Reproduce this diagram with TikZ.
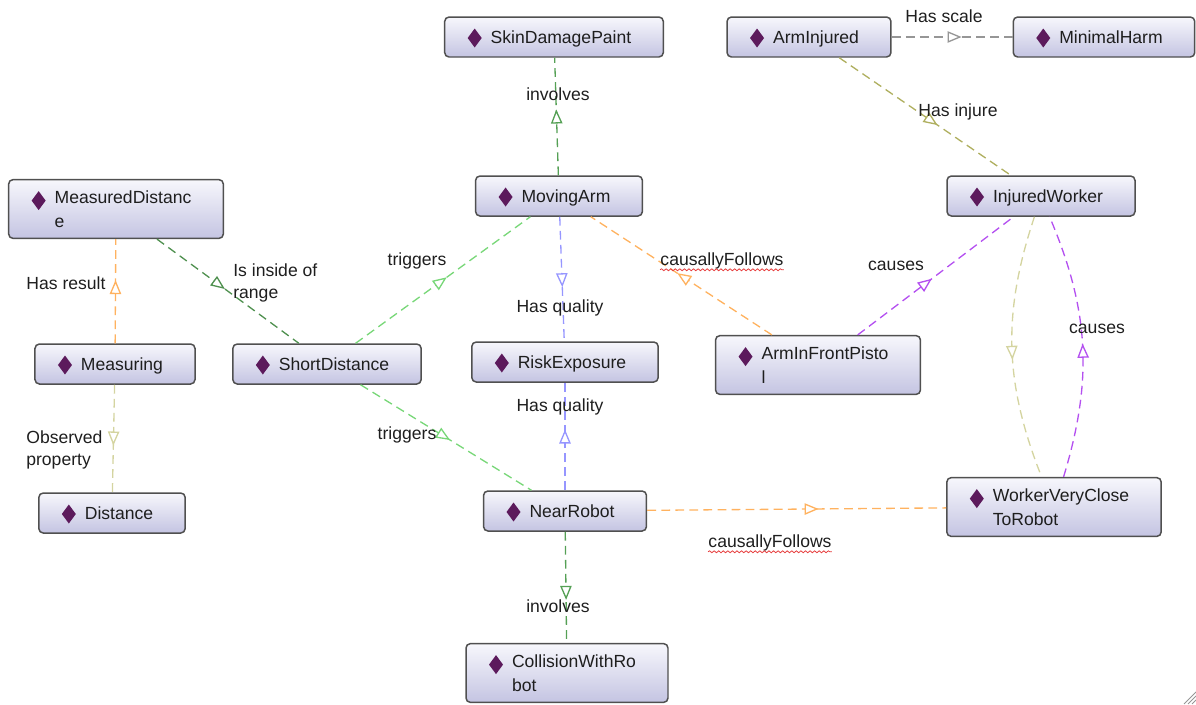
\documentclass[tikz,border=0pt]{standalone}
\usepackage{fontspec}
\setmainfont{Liberation Sans}
\usepackage{tikz}
\usetikzlibrary{arrows.meta}
\usetikzlibrary{decorations.markings}
\usetikzlibrary{decorations.pathmorphing}

\definecolor{indivcol}{RGB}{92,26,92}
\definecolor{boxtop}{RGB}{247,247,252}
\definecolor{boxbot}{RGB}{196,196,226}
\definecolor{boxline}{RGB}{80,80,80}
\definecolor{txtcol}{RGB}{30,30,30}
\definecolor{involvescol}{RGB}{85,160,85}
\definecolor{rangecol}{RGB}{80,145,80}
\definecolor{scalecol}{RGB}{150,150,150}
\definecolor{injurecol}{RGB}{175,175,95}
\definecolor{resultcol}{RGB}{255,178,95}
\definecolor{observedcol}{RGB}{212,212,160}
\definecolor{triggerscol}{RGB}{120,215,120}
\definecolor{qualitycol}{RGB}{150,150,255}
\definecolor{followscol}{RGB}{255,178,95}
\definecolor{causescol}{RGB}{180,80,240}
\definecolor{squigred}{RGB}{230,60,60}

\newcommand{\indname}[1]{\hspace*{0.28cm}\raisebox{-0.8pt}[\height][\depth]{\begin{tabular}{@{}l@{}}#1\end{tabular}}}

\tikzset{
    indiv/.style={draw=boxline, line width=0.85pt, rounded corners=2.5pt,
        top color=boxtop, bottom color=boxbot, text=txtcol,
        inner xsep=0.64cm, inner ysep=0.11cm, minimum height=0.8cm,
        font=\fontsize{10}{13.6}\selectfont,
        path picture={\fill[indivcol, sharp corners] ([shift={(0.6cm,-0.42cm)}]path picture bounding box.north west)
            +(0,0.19cm) -- +(0.14cm,0) -- +(0,-0.19cm) -- +(-0.14cm,0) -- cycle;}},
    rel/.style={color=#1, line width=0.75pt, dash pattern=on 5pt off 3pt},
    midtip/.style={postaction={decorate, decoration={markings, mark=at position #1 with
            {\arrow[xshift=4pt]{Triangle[fill=white, length=8pt, width=6.5pt]}}}}},
    lbl/.style={inner sep=0pt, text=txtcol, font=\fontsize{10}{12.5}\selectfont, align=left},
    squig/.style={draw=squigred, line width=0.45pt, decorate,
        decoration={snake, amplitude=0.55pt, segment length=2.6pt}}
}

\begin{document}
\begin{tikzpicture}[x=0.02cm, y=-0.02cm]
    \useasboundingbox (0,0) rectangle (1196,704);

    \node[indiv] (sdp) at (554,37) {\indname{SkinDamagePaint}};
    \node[indiv] (ai) at (809,37) {\indname{ArmInjured}};
    \node[indiv] (mh) at (1104,37) {\indname{MinimalHarm}};
    \node[indiv] (md) at (116,209) {\indname{MeasuredDistanc\\e}};
    \node[indiv] (ma) at (559,196) {\indname{MovingArm}};
    \node[indiv] (iw) at (1041,196) {\indname{InjuredWorker}};
    \node[indiv] (mg) at (115,364) {\indname{Measuring}};
    \node[indiv] (sd) at (327,364) {\indname{ShortDistance}};
    \node[indiv] (re) at (565,362) {\indname{RiskExposure}};
    \node[indiv] (aif) at (818,365) {\indname{ArmInFrontPisto\\l}};
    \node[indiv] (dist) at (112,513) {\indname{Distance}};
    \node[indiv] (nr) at (565,511) {\indname{NearRobot}};
    \node[indiv] (wvc) at (1054,507) {\indname{WorkerVeryClose\\ToRobot}};
    \node[indiv] (cwr) at (567,673) {\indname{CollisionWithRo\\bot}};

    \draw[rel=involvescol, midtip=0.5] (ma) -- (sdp);
    \draw[rel=scalecol, midtip=0.52] (ai) -- (mh);
    \draw[rel=injurecol, midtip=0.54] (ai) -- (iw);
    \draw[rel=rangecol, midtip=0.44] (md) -- (sd);
    \draw[rel=resultcol, midtip=0.54] (mg) -- (md);
    \draw[rel=observedcol, midtip=0.5] (mg) -- (dist);
    \draw[rel=triggerscol, midtip=0.49] (sd) -- (ma);
    \draw[rel=qualitycol, midtip=0.51] (ma) -- (re);
    \draw[rel=followscol, midtip=0.49] (aif) -- (ma);
    \draw[rel=causescol, midtip=0.44] (aif) -- (iw);
    \draw[rel=observedcol, midtip=0.52] (iw) to[bend right=20] (wvc);
    \draw[rel=causescol, midtip=0.48] (wvc) to[bend right=20] (iw);
    \draw[rel=triggerscol, midtip=0.49] (sd) -- (nr);
    \draw[rel=qualitycol, midtip=0.5] (nr) -- (re);
    \draw[rel=followscol, midtip=0.55] (nr) -- (wvc);
    \draw[rel=involvescol, midtip=0.55] (nr) -- (cwr);

    \node[lbl] (l1) at (558,94) {involves};
    \node[lbl] (l2) at (944,16) {Has scale};
    \node[lbl] (l3) at (958,112) {Has injure};
    \node[lbl, anchor=west] (l4) at (233,283) {Is inside of\\range};
    \node[lbl] (l5) at (66,283) {Has result};
    \node[lbl, anchor=west] (l6) at (26,450) {Observed\\property};
    \node[lbl] (l7) at (417,261) {triggers};
    \node[lbl] (l8) at (560,308) {Has quality};
    \node[lbl] (l9) at (722,261) {causallyFollows};
    \node[lbl] (l10) at (896,266) {causes};
    \node[lbl] (l11) at (1097,329) {causes};
    \node[lbl] (l12) at (407,435) {triggers};
    \node[lbl] (l13) at (560,407) {Has quality};
    \node[lbl] (l14) at (770,543) {causallyFollows};
    \node[lbl] (l15) at (558,606) {involves};

    \draw[squig] ([yshift=-2.4pt]l9.base west) -- ([yshift=-2.4pt]l9.base east);
    \draw[squig] ([yshift=-2.4pt]l14.base west) -- ([yshift=-2.4pt]l14.base east);

    \draw[scalecol, line width=0.5pt] (1196,692) -- (1184,704) (1196,696) -- (1188,704) (1196,700) -- (1192,704);
\end{tikzpicture}
\end{document}
